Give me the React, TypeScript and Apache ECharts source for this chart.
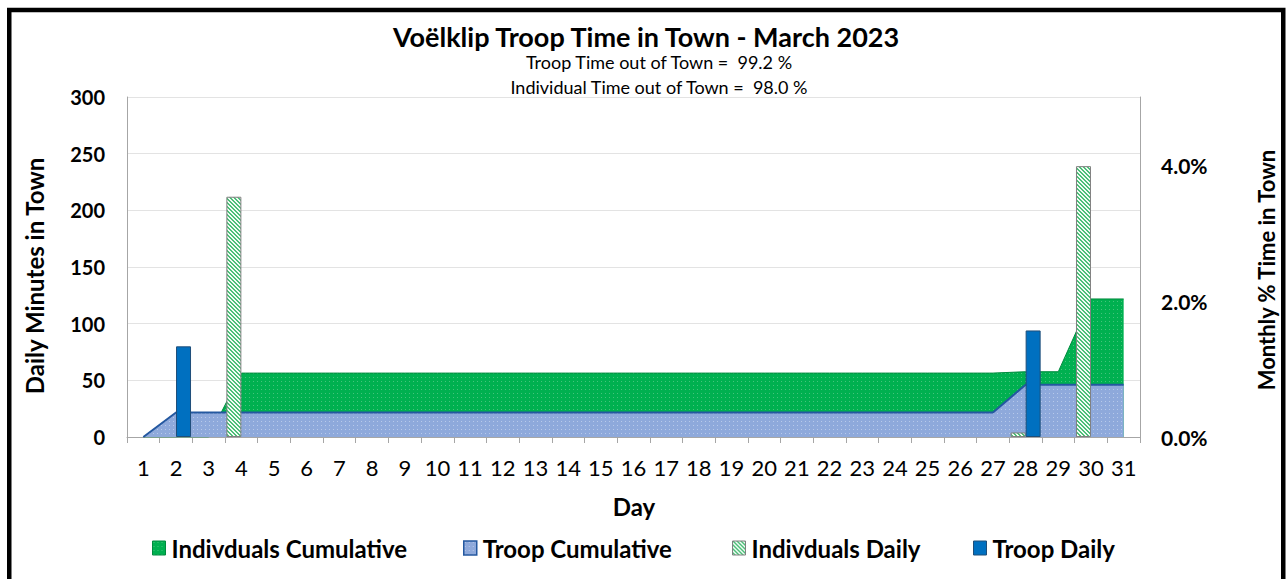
import React, { useEffect, useRef } from "react";
import * as echarts from "echarts";

const days = ["1","2","3","4","5","6","7","8","9","10","11","12","13","14","15","16","17","18","19","20","21","22","23","24","25","26","27","28","29","30","31"];

// Daily minutes in town (left axis)
const troopDaily = [null, 80, null, null, null, null, null, null, null, null, null, null, null, null, null, null, null, null, null, null, null, null, null, null, null, null, null, 94, null, null, null];
const indivDaily = [null, null, null, 212, null, null, null, null, null, null, null, null, null, null, null, null, null, null, null, null, null, null, null, null, null, null, null, 4, null, 239, null];

// Monthly cumulative % time in town (right axis)
const troopCum = [0, 0.36, 0.36, 0.36, 0.36, 0.36, 0.36, 0.36, 0.36, 0.36, 0.36, 0.36, 0.36, 0.36, 0.36, 0.36, 0.36, 0.36, 0.36, 0.36, 0.36, 0.36, 0.36, 0.36, 0.36, 0.36, 0.36, 0.77, 0.77, 0.77, 0.77];
const indivCum = [0, 0, 0, 0.94, 0.94, 0.94, 0.94, 0.94, 0.94, 0.94, 0.94, 0.94, 0.94, 0.94, 0.94, 0.94, 0.94, 0.94, 0.94, 0.94, 0.94, 0.94, 0.94, 0.94, 0.94, 0.94, 0.94, 0.96, 0.96, 2.03, 2.03];

const leftTicks = { min: 0, max: 300, interval: 50 };
const rightTicks = { min: 0, max: 5, interval: 1, labelled: [0, 2, 4] };

const titleText = "Voëlklip Troop Time in Town - March 2023";
const sub1 = "Troop Time out of Town =  99.2 %";
const sub2 = "Individual Time out of Town =  98.0 %";
const names = ["Indivduals Cumulative", "Troop Cumulative", "Indivduals Daily", "Troop Daily"];

const FONT = "Lato";

function makePattern(w: number, h: number, pick: (x: number, y: number) => string): string {
  const c = document.createElement("canvas");
  c.width = w;
  c.height = h;
  const ctx = c.getContext("2d")!;
  for (let y = 0; y < h; y++) {
    for (let x = 0; x < w; x++) {
      ctx.fillStyle = pick(x, y);
      ctx.fillRect(x, y, 1, 1);
    }
  }
  return c.toDataURL();
}

export default function App() {
  const ref = useRef<HTMLDivElement>(null);
  useEffect(() => {
    document.body.style.margin = "0";
    const chart = echarts.init(ref.current!, undefined, { renderer: "svg" });

    const greenDots = {
      image: makePattern(4, 4, (x, y) => (x === 1 && y === 1 ? "#45c47c" : "#00B050")),
      repeat: "repeat",
      imageWidth: 4,
      imageHeight: 4,
    };
    const blueDots = {
      image: makePattern(4, 4, (x, y) => (x === 1 && y === 1 ? "#b7c9ea" : "#8EA9DB")),
      repeat: "repeat",
      imageWidth: 4,
      imageHeight: 4,
    };
    const hatch = {
      image: makePattern(4, 4, (x, y) => ((((x - y) % 4) + 4) % 4 < 2 ? "#4cbf78" : "#f2fbf5")),
      repeat: "repeat",
      imageWidth: 4,
      imageHeight: 4,
    };

    const legendBase = (left: number, name: string, itemStyle: any) => ({
      left,
      top: 536,
      padding: 0,
      icon: "rect",
      itemWidth: 13,
      itemHeight: 14,
      itemGap: 0,
      selectedMode: false,
      data: [{ name, icon: "rect", itemStyle }],
      textStyle: { fontFamily: FONT, fontSize: 24, lineHeight: 24, fontWeight: "bold", color: "#000", padding: [0, 0, 0, 1] },
    });

    chart.setOption({
      animation: false,
      backgroundColor: "#fff",
      textStyle: { fontFamily: FONT },
      grid: { left: 127, right: 147, top: 97, bottom: 142, containLabel: false },
      legend: [
        legendBase(152, names[0], { color: greenDots, borderColor: "#008a3e", borderWidth: 1 }),
        legendBase(463, names[1], { color: blueDots, borderColor: "#2458a0", borderWidth: 1.5 }),
        legendBase(732, names[2], { color: hatch, borderColor: "#808080", borderWidth: 1 }),
        legendBase(973, names[3], { color: "#0070C0", borderColor: "#1f4e79", borderWidth: 1 }),
      ],
      xAxis: {
        type: "category",
        data: days,
        boundaryGap: true,
        axisLine: { lineStyle: { color: "#a6a6a6", width: 1 } },
        axisTick: { show: true, length: 6, lineStyle: { color: "#a6a6a6" } },
        axisLabel: { interval: 0, margin: 19, fontSize: 22, color: "#000", fontFamily: FONT },
      },
      yAxis: [
        {
          type: "value",
          min: leftTicks.min,
          max: leftTicks.max,
          interval: leftTicks.interval,
          axisLine: { show: true, lineStyle: { color: "#a6a6a6" } },
          axisTick: { show: false },
          splitLine: { show: true, lineStyle: { color: "#e3e3e3", width: 1 } },
          axisLabel: { margin: 22, fontSize: 20, fontWeight: "bold", color: "#000", fontFamily: FONT },
        },
        {
          type: "value",
          min: rightTicks.min,
          max: rightTicks.max,
          interval: rightTicks.interval,
          position: "right",
          axisLine: { show: true, lineStyle: { color: "#a6a6a6" } },
          axisTick: { show: false },
          splitLine: { show: false },
          axisLabel: {
            margin: 21,
            fontSize: 21,
            fontWeight: "bold",
            color: "#000",
            fontFamily: FONT,
            formatter: (v: number) => (rightTicks.labelled.includes(Math.round(v * 1000) / 1000) ? v.toFixed(1) + "%" : ""),
          },
        },
      ],
      series: [
        {
          name: names[0],
          type: "line",
          yAxisIndex: 1,
          data: indivCum,
          symbol: "none",
          lineStyle: { color: "#008a3e", width: 1 },
          itemStyle: { color: "#00B050" },
          areaStyle: { color: greenDots, opacity: 1 },
          z: 1,
        },
        {
          name: names[1],
          type: "line",
          yAxisIndex: 1,
          data: troopCum,
          symbol: "none",
          lineStyle: { color: "#2458a0", width: 2 },
          itemStyle: { color: "#8EA9DB" },
          areaStyle: { color: blueDots, opacity: 1 },
          z: 2,
        },
        {
          name: names[2],
          type: "bar",
          yAxisIndex: 0,
          data: indivDaily,
          barWidth: 15,
          barGap: "0%",
          itemStyle: { color: hatch, borderColor: "#808080", borderWidth: 1 },
          z: 3,
        },
        {
          name: names[3],
          type: "bar",
          yAxisIndex: 0,
          data: troopDaily,
          barWidth: 15,
          barGap: "0%",
          itemStyle: { color: "#0070C0", borderColor: "#1f4e79", borderWidth: 1 },
          z: 3,
        },
      ],
      graphic: [
        {
          type: "rect",
          silent: true,
          shape: { x: 9.25, y: 10, width: 1274, height: 640 },
          style: { fill: "none", stroke: "#000", lineWidth: 4.5 },
          z: 100,
        },
        {
          type: "text",
          x: 646,
          y: 36,
          style: { text: titleText, fontFamily: FONT, fontSize: 27, lineHeight: 28, fontWeight: "bold", fill: "#000", textAlign: "center", textVerticalAlign: "middle" },
        },
        {
          type: "text",
          x: 659,
          y: 62,
          style: { text: sub1, fontFamily: FONT, fontSize: 18, lineHeight: 18, fill: "#000", textAlign: "center", textVerticalAlign: "middle" },
        },
        {
          type: "text",
          x: 659,
          y: 87,
          style: { text: sub2, fontFamily: FONT, fontSize: 18, lineHeight: 18, fill: "#000", textAlign: "center", textVerticalAlign: "middle" },
        },
        {
          type: "text",
          x: 34,
          y: 276,
          rotation: Math.PI / 2,
          style: { text: "Daily Minutes in Town", fontFamily: FONT, fontSize: 24, fontWeight: "bold", fill: "#000", textAlign: "center", textVerticalAlign: "middle" },
        },
        {
          type: "text",
          x: 1266,
          y: 270,
          rotation: Math.PI / 2,
          style: { text: "Monthly % Time in Town", fontFamily: FONT, fontSize: 22, fontWeight: "bold", fill: "#000", textAlign: "center", textVerticalAlign: "middle" },
        },
        {
          type: "text",
          x: 634,
          y: 506,
          style: { text: "Day", fontFamily: FONT, fontSize: 24, fontWeight: "bold", fill: "#000", textAlign: "center", textVerticalAlign: "middle" },
        },
      ],
    });
    return () => chart.dispose();
  }, []);
  return <div ref={ref} style={{ width: 1287, height: 579 }} />;
}
